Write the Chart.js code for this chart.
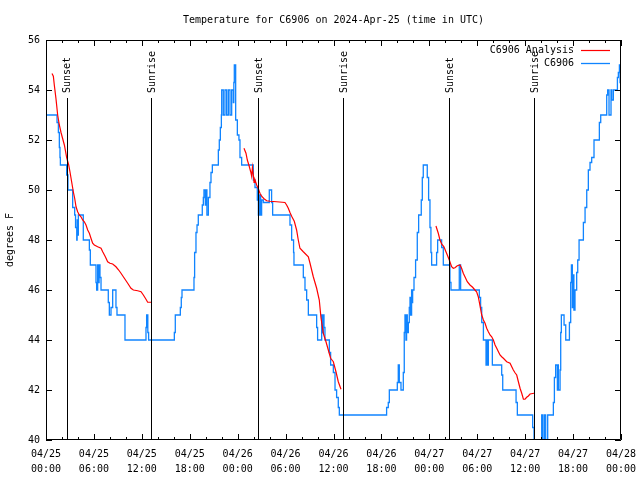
<!DOCTYPE html>
<html>
<head>
<meta charset="utf-8">
<script src="https://cdn.jsdelivr.net/npm/chart.js@4.4.1/dist/chart.umd.min.js"></script>
<style>
  html, body { margin: 0; padding: 0; background: #fff; }
  canvas { display: block; }
</style>
</head>
<body>
<canvas id="tempChart" width="640" height="480"></canvas>
<script>
const TITLE = 'Temperature for C6906 on 2024-Apr-25 (time in UTC)';
const Y_LABEL = 'degrees F';
const FONT = '"DejaVu Sans Mono", "Liberation Mono", monospace';
const RED = 'rgb(255,0,0)';
const BLUE = 'rgb(16,132,255)';

// x values are hours since 04/25 00:00 UTC
const tickDates = ['04/25', '04/25', '04/25', '04/25', '04/26', '04/26', '04/26',
                   '04/26', '04/27', '04/27', '04/27', '04/27', '04/28'];
const tickTimes = ['00:00', '06:00', '12:00', '18:00', '00:00', '06:00', '12:00',
                   '18:00', '00:00', '06:00', '12:00', '18:00', '00:00'];

const sunHours = [2.57, 13.19, 26.59, 37.23, 50.5, 61.15];
const sunLabels = ['Sunset', 'Sunrise', 'Sunset', 'Sunrise', 'Sunset', 'Sunrise'];

// station observations (step changes)
const obsHours = [
  0, 1.38, 1.55, 1.67, 1.75, 1.8, 2.59, 2.75, 3.34, 3.59, 3.7, 3.85, 3.9, 3.97, 4.05, 4.67,
  5.43, 5.55, 6.26, 6.34, 6.47, 6.55, 6.65, 6.76, 6.89, 7.8, 7.93, 8.14, 8.35, 8.76, 8.89, 9.89,
  12.52, 12.6, 12.75, 12.85, 16.07, 16.19, 16.82, 16.94, 17.03, 18.53, 18.61, 18.78, 18.91, 19.07,
  19.57, 19.7, 19.78, 19.95, 20.05, 20.15, 20.33, 20.53, 20.66, 20.83, 21.58, 21.7, 21.83, 21.96,
  22.0, 22.2, 22.41, 22.62, 22.83, 23.04, 23.25, 23.46, 23.52,
  23.58, 23.75, 23.96, 24.16, 24.29, 24.5, 25.96, 26.17, 26.46, 26.59, 26.71, 26.88, 27.0, 27.21,
  27.96, 28.25, 28.38, 30.55, 30.76, 31.0, 31.05, 32.22, 32.43, 32.64, 32.85, 33.89, 34.01, 34.52,
  34.65, 34.72, 34.81, 34.93, 35.48, 35.64, 35.98, 36.19, 36.39, 36.6, 36.73, 42.65, 42.86, 42.99,
  43.99, 44.11, 44.24, 44.45, 44.74, 44.86, 44.95, 45.07, 45.15, 45.24, 45.37, 45.49, 45.58, 45.66,
  45.78, 45.85, 45.91, 46.08, 46.28, 46.49, 46.66, 46.99, 47.12, 47.24, 47.74, 47.91, 48.08, 48.2,
  48.29, 48.91, 49.04, 49.54, 49.75, 50.58, 50.71, 51.75, 51.92, 54.26, 54.42, 54.56, 54.77, 55.1,
  55.18, 55.26, 55.39, 55.89, 57.06, 57.19, 58.86, 59.02, 60.94, 61.11, 62.07, 62.2, 62.4, 62.57,
  62.82, 63.53, 63.66, 63.82, 64.03, 64.1, 64.16, 64.37, 64.45, 64.53, 64.87, 65.08, 65.54, 65.7,
  65.79, 65.91, 66.0, 66.1, 66.24, 66.45, 66.58, 66.75, 67.29, 67.5, 67.71, 67.91, 68.12, 68.33,
  68.62, 69.29, 69.46, 70.21, 70.33, 70.5, 70.75, 70.84, 71.04, 71.55, 71.67, 71.8,
  71.88, 72
];
const obsTemps = [
  53, 52.7, 52.3, 51.7, 51.3, 51, 50.6, 50, 49.3, 49, 48.5, 48, 48.8, 48.2, 49, 48,
  47.6, 47, 46.3, 46, 47, 46.3, 47, 46.5, 46, 45.5, 45, 45.3, 46, 45.3, 45, 44,
  44.5, 45, 44.3, 44, 44.3, 45, 45.3, 45.7, 46, 46.5, 47.5, 48.3, 48.6, 49,
  49.4, 49.7, 50, 49.4, 50, 49, 49.7, 50.3, 50.7, 51, 51.6, 52, 52.5, 53,
  54, 53, 54, 53, 54, 53, 54, 53.5, 54.3,
  55, 52.8, 52.2, 52, 51.3, 51, 50.4, 50.1, 49.6, 49, 49.8, 49, 49.6, 49.5,
  50, 49.5, 49, 48.6, 48, 47.5, 47, 46.5, 46, 45.6, 45, 44.5, 44, 45,
  44.3, 45, 44.5, 44, 43.5, 43, 42.7, 42, 41.7, 41.3, 41, 41.3, 41.5, 42,
  42.3, 43, 42.3, 42, 42.7, 44.3, 45, 44, 45, 44.3, 44.7, 45.3, 45.7, 45,
  46, 45.5, 46, 46.5, 47.2, 48.3, 49, 49.6, 50.5, 51, 50.5, 49.6, 48.5, 47.5,
  47, 47.5, 48, 47.7, 47, 46.3, 46, 47, 46, 45.7, 45.3, 44.7, 44, 43,
  44, 43, 44, 43, 42.6, 42, 41.5, 41, 40.5, 39, 41, 39, 41, 39.5,
  41, 41.5, 42.5, 43, 42, 43, 42, 42.8, 44.3, 45, 44.6, 44, 44.7, 46.3,
  47, 45.3, 46.6, 45.2, 46, 46.7, 47.2, 48, 48.7, 49.3, 50, 50.8, 51.1, 51.3,
  52, 52.7, 53, 53.8, 54, 53, 54, 53.6, 54, 54.5, 54.7, 55,
  54.3, 54
];

// analysis curve, null separates the three nights
const analysisHours = [
  0.75, 0.92, 1.04, 1.25, 1.46, 1.67, 1.88, 2.09, 2.3, 2.59, 2.84, 3.0, 3.21, 3.42, 3.59, 3.76,
  3.96, 4.17, 4.38, 4.59, 4.8, 5.01, 5.22, 5.43, 5.63, 5.84, 6.05, 6.47, 6.89, 7.1, 7.43, 7.72,
  8.01, 8.35, 8.76, 9.1, 9.39, 9.81, 10.23, 10.64, 10.94, 11.48, 11.9, 12.19, 12.52, 12.73, 13.19,
  18,
  24.79, 25.04, 25.21, 25.42, 25.63, 25.75, 25.85, 25.96, 26.05, 26.17, 26.38, 26.59, 26.79, 27.0,
  27.3, 27.63, 28.05, 28.88, 29.92, 30.13, 30.34, 30.55, 30.76, 31.09, 31.38, 31.59, 31.8, 32.22,
  32.85, 33.06, 33.47, 33.89, 34.22, 34.43, 34.72, 35.06, 35.35, 35.64, 35.98, 36.31, 36.6, 36.94,
  43,
  48.83, 49.12, 49.33, 49.54, 49.83, 50.08, 50.25, 50.5, 50.79, 51.0, 51.21, 51.5, 51.84, 52.04,
  52.25, 52.46, 52.75, 53.09, 53.42, 53.71, 53.92, 54.13, 54.35, 54.56, 54.77, 54.98, 55.18, 55.39,
  55.6, 55.81, 56.02, 56.23, 56.44, 56.65, 56.85, 57.06, 57.27, 57.69, 58.11, 58.32, 58.52, 58.73,
  58.94, 59.15, 59.36, 59.57, 59.78, 59.98, 60.19, 60.4, 60.61, 61.11
];
const analysisTemps = [
  54.66, 54.55, 54.2, 53.65, 53.0, 52.6, 52.3, 52.05, 51.8, 51.3, 51.0, 50.73, 50.33, 49.93, 49.67, 49.33,
  49.13, 49.0, 48.93, 48.8, 48.73, 48.6, 48.4, 48.27, 48.07, 47.87, 47.8, 47.73, 47.67, 47.53, 47.33, 47.13,
  47.07, 47.04, 46.93, 46.8, 46.67, 46.47, 46.27, 46.07, 46.0, 45.97, 45.93, 45.8, 45.63, 45.51, 45.51,
  null,
  51.67, 51.47, 51.2, 50.98, 50.73, 50.55, 50.9, 50.6, 50.3, 50.4, 50.2, 50.05, 49.87, 49.75,
  49.65, 49.57, 49.55, 49.53, 49.5, 49.4, 49.27, 49.1, 48.95, 48.75, 48.4, 48.0, 47.67, 47.53,
  47.33, 47.07, 46.53, 46.07, 45.6, 44.9, 44.27, 43.93, 43.6, 43.27, 43.13, 42.73, 42.33, 42.03,
  null,
  48.56, 48.27, 48.0, 47.84, 47.73, 47.53, 47.4, 47.2, 46.93, 46.87, 46.89, 46.97, 47.0, 46.87,
  46.67, 46.53, 46.33, 46.2, 46.11, 46.0, 45.93, 45.73, 45.36, 45.0, 44.8, 44.67, 44.47, 44.33,
  44.2, 44.13, 44.0, 43.8, 43.67, 43.53, 43.4, 43.33, 43.27, 43.13, 43.07, 42.93, 42.8, 42.69,
  42.6, 42.33, 42.07, 41.87, 41.63, 41.63, 41.71, 41.76, 41.84, 41.87
];

const toPoints = (xs, ys) => xs.map((h, i) => ({ x: h, y: ys[i] }));

// frame, inward ticks and the sunrise/sunset markers
const framePlugin = {
  id: 'frame',
  afterDatasetsDraw(chart) {
    const { ctx, chartArea: a, scales: { x, y } } = chart;
    ctx.save();
    ctx.strokeStyle = '#000';
    ctx.lineWidth = 1;
    ctx.beginPath();
    ctx.rect(a.left + 0.5, a.top + 0.5, a.right - a.left - 1, a.bottom - a.top - 1);
    for (let h = x.min; h <= x.max; h += 2) {
      const px = Math.round(x.getPixelForValue(h)) + 0.5;
      const len = h % 6 === 0 ? 6 : 3;
      ctx.moveTo(px, a.bottom); ctx.lineTo(px, a.bottom - len);
      ctx.moveTo(px, a.top); ctx.lineTo(px, a.top + len);
    }
    y.ticks.forEach(t => {
      const py = Math.round(y.getPixelForValue(t.value)) + 0.5;
      ctx.moveTo(a.left, py); ctx.lineTo(a.left + 6, py);
      ctx.moveTo(a.right, py); ctx.lineTo(a.right - 6, py);
    });
    sunHours.forEach(h => {
      const px = Math.round(x.getPixelForValue(h)) + 0.5;
      ctx.moveTo(px, 98); ctx.lineTo(px, a.bottom);
    });
    ctx.stroke();

    ctx.fillStyle = '#000';
    ctx.font = '10px ' + FONT;
    ctx.textAlign = 'left';
    ctx.textBaseline = 'middle';
    sunHours.forEach((h, i) => {
      ctx.save();
      ctx.translate(x.getPixelForValue(h) + 1, 93);
      ctx.rotate(-Math.PI / 2);
      ctx.fillText(sunLabels[i], 0, 0);
      ctx.restore();
    });
    ctx.restore();
  }
};

// title and gnuplot style key
const textPlugin = {
  id: 'gpText',
  afterDraw(chart) {
    const { ctx, chartArea: a } = chart;
    ctx.save();
    ctx.fillStyle = '#000';
    ctx.font = '10px ' + FONT;
    ctx.textBaseline = 'middle';
    ctx.textAlign = 'center';
    ctx.fillText(TITLE, (a.left + a.right) / 2, 20);

    ctx.textAlign = 'right';
    chart.data.datasets.forEach((ds, i) => {
      const ly = 50 + i * 13;
      ctx.fillText(ds.label, 574, ly);
      ctx.strokeStyle = ds.borderColor;
      ctx.lineWidth = ds.borderWidth;
      ctx.beginPath();
      ctx.moveTo(581, ly + 0.5);
      ctx.lineTo(610, ly + 0.5);
      ctx.stroke();
    });
    ctx.restore();
  }
};

new Chart(document.getElementById('tempChart'), {
  type: 'line',
  data: {
    datasets: [{
      label: 'C6906 Analysis',
      data: toPoints(analysisHours, analysisTemps),
      borderColor: RED,
      borderWidth: 1.2,
      pointRadius: 0,
      spanGaps: false,
      clip: 0
    }, {
      label: 'C6906',
      data: toPoints(obsHours, obsTemps),
      borderColor: BLUE,
      borderWidth: 1.3,
      pointRadius: 0,
      stepped: 'before',
      clip: 0
    }]
  },
  options: {
    responsive: false,
    animation: false,
    devicePixelRatio: 1,
    layout: { padding: { top: 40, right: 19, bottom: 0, left: 0 } },
    plugins: {
      legend: { display: false },
      title: { display: false },
      tooltip: { enabled: false }
    },
    scales: {
      x: {
        type: 'linear',
        min: 0,
        max: 72,
        grid: { display: false, drawTicks: false },
        border: { display: false },
        ticks: {
          stepSize: 6,
          autoSkip: false,
          maxRotation: 0,
          padding: 7,
          color: '#000',
          font: { family: FONT, size: 10, lineHeight: 1.5 },
          callback: v => [tickDates[v / 6], tickTimes[v / 6]]
        },
        afterFit: s => {
          s.height = 40;
          s.paddingLeft = 0;
          s.paddingRight = 0;
        }
      },
      y: {
        min: 40,
        max: 56,
        grid: { display: false, drawTicks: false },
        border: { display: false },
        ticks: {
          stepSize: 2,
          padding: 6,
          color: '#000',
          font: { family: FONT, size: 10 }
        },
        title: {
          display: true,
          text: Y_LABEL,
          color: '#000',
          font: { family: FONT, size: 10 },
          padding: { top: 4, bottom: 0 }
        },
        afterFit: s => {
          s.width = 46;
          s.paddingTop = 0;
          s.paddingBottom = 0;
        }
      }
    }
  },
  plugins: [framePlugin, textPlugin]
});
</script>
</body>
</html>
